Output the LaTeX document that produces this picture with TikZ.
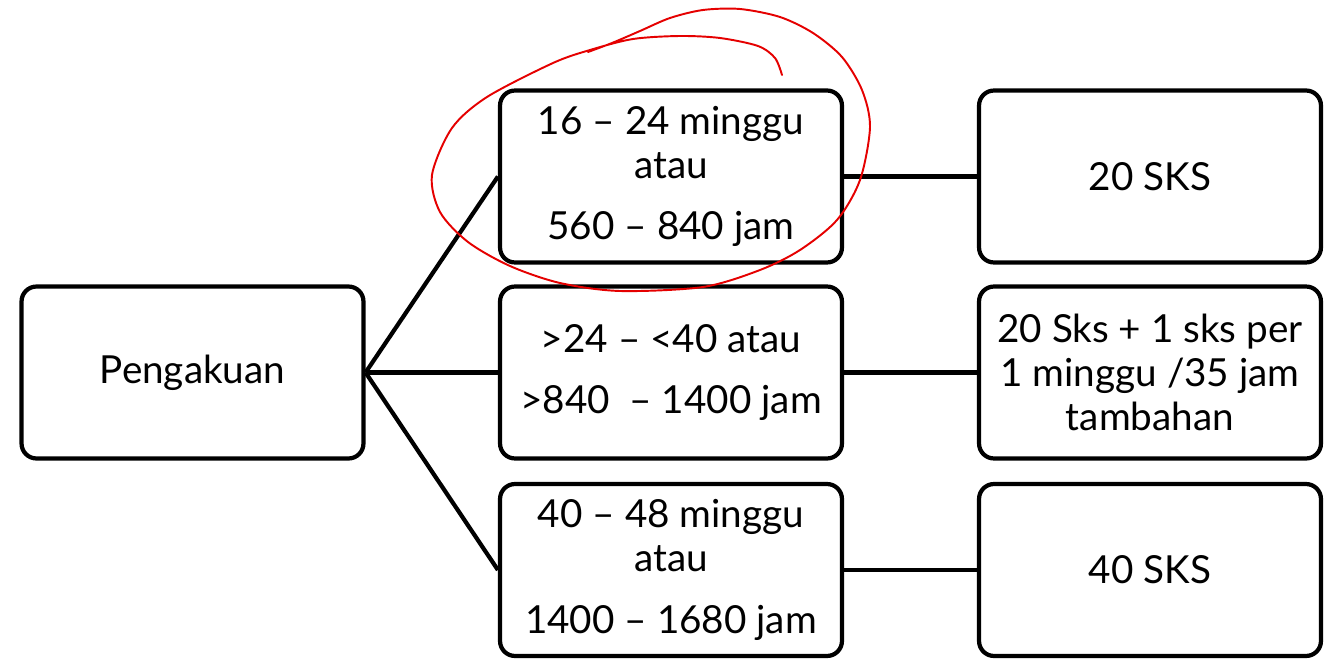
\documentclass[tikz,border=0pt]{standalone}
\usepackage{fontspec}
\setmainfont{Lato}
\begin{document}
\begin{tikzpicture}[x=0.02cm,y=-0.02cm,
  kotak/.style={draw,line width=2.4pt,rounded corners=0.3cm,minimum width=6.84cm,
    minimum height=3.44cm,align=center,font=\fontsize{22}{25}\selectfont},
  garis/.style={line width=2.4pt}]
\useasboundingbox (0,0) rectangle (1332,662);
%kotak
  \node[kotak] (pengakuan) at (192.5,372.5) {Pengakuan};
  \node[kotak] (durasiA) at (671,176.5) {16 -- 24 minggu\\ atau\\[10pt] 560 -- 840 jam};
  \node[kotak] (durasiB) at (671,372.5) {>24 -- <40 atau\\[9.6pt] >840~ -- 1400 jam};
  \node[kotak] (durasiC) at (671,570) {40 -- 48 minggu\\ atau\\[10pt] 1400 -- 1680 jam};
  \node[kotak] (sksA) at (1150,176.5) {20 SKS};
  \node[kotak] (sksB) at (1150,372.5) {20 Sks + 1 sks per\\ 1 minggu /35 jam\\ tambahan};
  \node[kotak] (sksC) at (1150,570) {40 SKS};
%garis
  \draw[garis] (pengakuan.east) -- (durasiA.west);
  \draw[garis] (pengakuan.east) -- (durasiB.west);
  \draw[garis] (pengakuan.east) -- (durasiC.west);
  \draw[garis] (durasiA.east) -- (sksA.west);
  \draw[garis] (durasiB.east) -- (sksB.west);
  \draw[garis] (durasiC.east) -- (sksC.west);
%coretan merah
  \draw[red!90!black,line width=1.1pt,line cap=round] plot[smooth] coordinates {
    (782,75) (775,58) (758,46) (720,38) (680,36) (633,39) (590,50) (553,63)
    (487,97) (452,128) (432,175) (440,212) (468,242) (510,266) (560,283)
    (620,291) (703,287) (760,270) (800,250) (837,220) (860,180) (870,127)
    (862,90) (842,57) (813,33) (780,17) (740,9) (703,10) (670,18) (640,31)
    (612,43) (588,52)};
\end{tikzpicture}
\end{document}
